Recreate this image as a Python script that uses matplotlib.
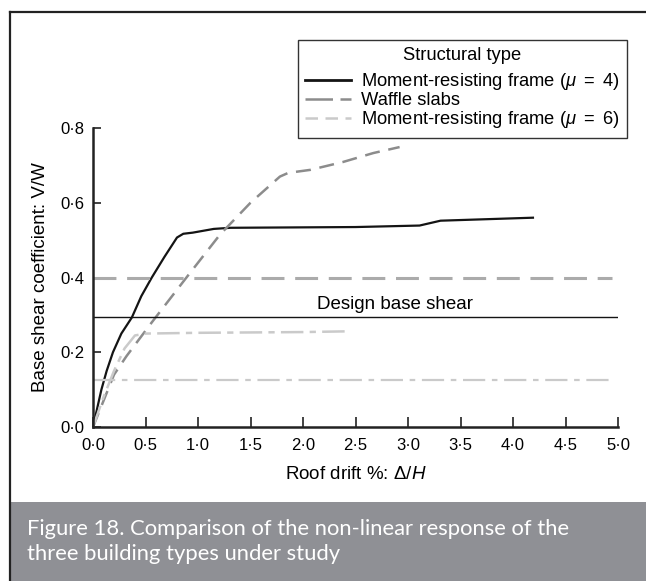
import matplotlib
matplotlib.use("Agg")
import matplotlib.pyplot as plt
from matplotlib.lines import Line2D
from matplotlib.patches import Rectangle

plt.rcParams['font.family'] = ['Liberation Sans', 'DejaVu Sans']
plt.rcParams['mathtext.fontset'] = 'custom'
plt.rcParams['mathtext.rm'] = 'Liberation Sans'
plt.rcParams['mathtext.it'] = 'Liberation Sans:italic'

# pushover curves (roof drift %, V/W)
mrf4_drift = [0.0, 0.04, 0.08, 0.13, 0.19, 0.27, 0.37, 0.46, 0.56, 0.68, 0.80, 0.86, 0.95, 1.15, 1.31, 2.5, 3.11, 3.31, 4.19]
mrf4_shear = [0.0, 0.05, 0.10, 0.15, 0.20, 0.25, 0.293, 0.35, 0.40, 0.455, 0.507, 0.517, 0.52, 0.53, 0.533, 0.535, 0.539, 0.552, 0.56]

waffle_drift = [0.0, 0.1, 0.2, 0.32, 0.56, 0.89, 1.21, 1.50, 1.78, 1.86, 2.07, 2.38, 2.67, 2.92]
waffle_shear = [0.0, 0.07, 0.14, 0.19, 0.28, 0.40, 0.515, 0.60, 0.67, 0.68, 0.688, 0.709, 0.733, 0.749]

mrf6_drift = [0.0, 0.1, 0.2, 0.3, 0.4, 0.5, 1.0, 2.0, 2.43]
mrf6_shear = [0.0, 0.08, 0.15, 0.21, 0.245, 0.25, 0.252, 0.254, 0.256]

# design levels
design_shear = 0.293
waffle_design = 0.40
mrf6_design = 0.125

x_ticks = [0.0, 0.5, 1.0, 1.5, 2.0, 2.5, 3.0, 3.5, 4.0, 4.5, 5.0]
y_ticks = [0.0, 0.2, 0.4, 0.6, 0.8]

black = '#141414'
mid_gray = '#8c8c8c'
dash_gray = '#ababab'
light_gray = '#cacaca'

fig = plt.figure(figsize=(6.46, 5.81), dpi=100)
W, H = 646, 581

# frame lines (left and top) and caption band
fig.add_artist(Line2D([10 / W, 10 / W], [0, 1 - 12 / H], color='#222222', lw=1.6))
fig.add_artist(Line2D([10 / W, 1], [1 - 12 / H, 1 - 12 / H], color='#222222', lw=1.6))
fig.add_artist(Rectangle((11 / W, 0), 1, 79 / H, color='#8f9095', lw=0))
fig.text(27 / W, 1 - 535 / H, 'Figure 18. Comparison of the non-linear response of the',
         family='Lato', fontsize=15.8, color='white', va='baseline')
fig.text(27 / W, 1 - 560 / H, 'three building types under study',
         family='Lato', fontsize=15.8, color='white', va='baseline')

ax = fig.add_axes([93 / W, 1 - 427 / H, (618 - 93) / W, (427 - 128) / H])

ax.plot(mrf4_drift, mrf4_shear, color=black, lw=1.6)
ax.plot(waffle_drift, waffle_shear, color=mid_gray, lw=1.8, dashes=(6, 3.5))
ax.plot(mrf6_drift, mrf6_shear, color=light_gray, lw=1.8, dashes=(9, 2.5, 2.5, 2.5))

ax.plot([0, 4.94], [waffle_design] * 2, color=dash_gray, lw=2.2, dashes=(7.5, 3.5))
ax.plot([0, 5.0], [design_shear] * 2, color=black, lw=1.0)
ax.plot([0, 4.95], [mrf6_design] * 2, color=light_gray, lw=1.6, dashes=(10, 3, 2.5, 3))
ax.text(2.88, 0.328, 'Design base shear', ha='center', va='center', fontsize=13.5)

ax.set_xlim(0, 5.0)
ax.set_ylim(0, 0.8)
ax.set_xticks(x_ticks)
ax.set_xticklabels([f'{t:.1f}'.replace('.', '\u00b7') for t in x_ticks])
ax.set_yticks(y_ticks)
ax.set_yticklabels([f'{t:.1f}'.replace('.', '\u00b7') for t in y_ticks])
for s in ['top', 'right']:
    ax.spines[s].set_visible(False)
for s in ['left', 'bottom']:
    ax.spines[s].set_linewidth(1.8)
    ax.spines[s].set_color('#222222')
ax.tick_params(axis='x', direction='in', length=7.5, width=1.2, pad=8, labelsize=12, color='#222222')
ax.tick_params(axis='y', direction='in', length=6, width=1.2, pad=6, labelsize=12, color='#222222')
ax.set_xlabel(r'Roof drift %: $\Delta/H$', fontsize=13.5, labelpad=9)
ax.set_ylabel('Base shear coefficient: V/W', fontsize=13.5, labelpad=8)

handles = [
    Line2D([], [], color=black, lw=2.0),
    Line2D([], [], color=mid_gray, lw=1.8, dashes=(11, 3)),
    Line2D([], [], color=light_gray, lw=1.8, dashes=(5, 3)),
]
labels = [r'Moment-resisting frame ($\mu\ =\ 4$)', 'Waffle slabs', r'Moment-resisting frame ($\mu\ =\ 6$)']
leg = fig.legend(handles, labels, title='Structural type', loc='upper left',
                 bbox_to_anchor=(298 / W, 1 - 40 / H), fontsize=13.2, title_fontsize=13.2,
                 frameon=True, fancybox=False, edgecolor='#333333', framealpha=1,
                 handlelength=2.5, handletextpad=0.55, labelspacing=0.0, borderpad=0.4,
                 borderaxespad=0)
leg.get_frame().set_linewidth(1.0)
leg._legend_box.sep = 5  # a bit more room under the title

fig.savefig('out.png', dpi=100)
